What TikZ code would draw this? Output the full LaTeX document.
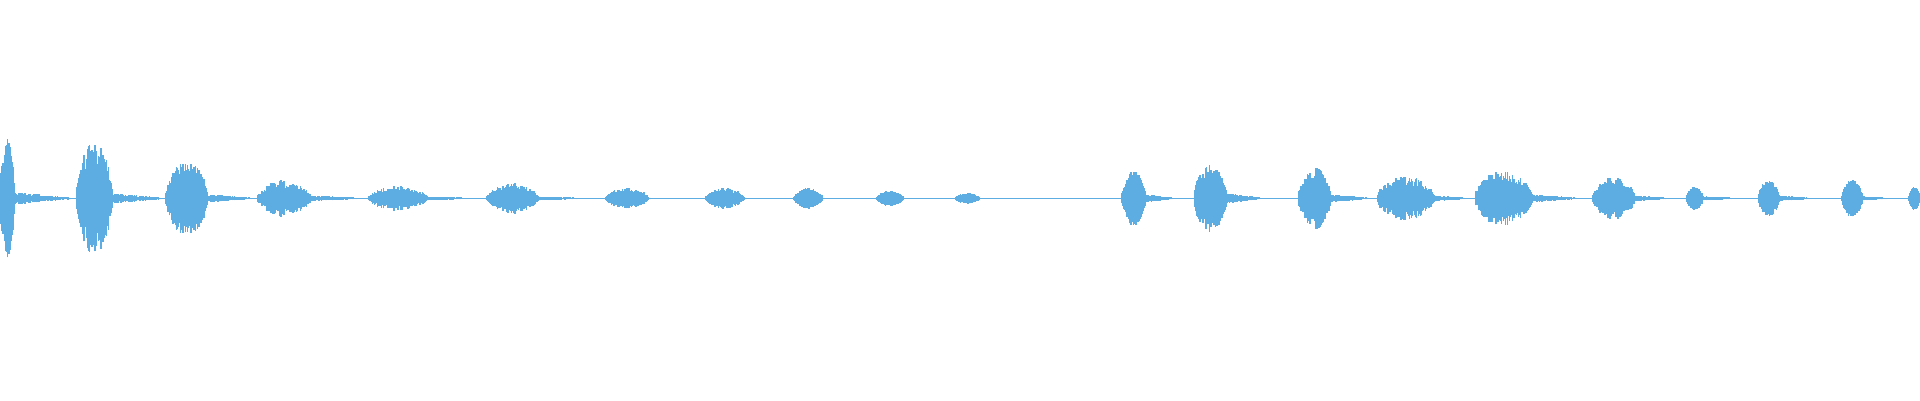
\documentclass[tikz,border=0pt]{standalone}
\definecolor{wave}{RGB}{93,173,226}
\begin{document}
\begin{tikzpicture}[x=0.01cm,y=0.01cm,wv/.style={wave,line width=0.35pt}]
\useasboundingbox (0,0) rectangle (1568,327);
\pgfmathsetseed{7}
\coordinate (L) at (0,165); \coordinate (R) at (1568,165);
\draw[wv] (L) -- (R);
% burst: start, end, amp, tail length, tail amp
\foreach \s/\e/\a/\tl/\ta in {0/12/48/50/5, 62/92/48/45/4, 135/170/31/40/3, 210/255/15/45/2, 300/350/10/40/1.5, 397/440/12/40/1.5, 494/530/8/0/0, 576/608/8/0/0, 648/672/8/0/0, 716/738/6/0/0, 780/800/4/0/0, 916/936/22/25/3, 975/1002/28/30/4, 1060/1087/25/35/3, 1124/1172/18/30/2, 1204/1252/23/40/3, 1300/1336/17/30/2, 1377/1391/9/30/1.5, 1436/1453/15/30/2, 1504/1521/15/25/1.5, 1559/1568/9/0/0}{
  \foreach \i in {0,...,60}{
    \pgfmathsetmacro{\x}{\s+(\e-\s)*\i/60}
    \pgfmathsetmacro{\t}{\i/60}
    \pgfmathsetmacro{\env}{\a*(sin(180*\t))^0.6*(0.55+0.45*rnd)+0.5}
    \draw[wv] (\x,165-\env) -- (\x,165+\env);
  }
  \ifdim \tl pt>0pt
  \foreach \i in {0,...,60}{
    \pgfmathsetmacro{\x}{\e+\tl*\i/60}
    \pgfmathsetmacro{\env}{\ta*(1-\i/60)*(0.5+0.5*rnd)+0.3}
    \draw[wv] (\x,165-\env) -- (\x,165+\env);
  }
  \fi
}
\end{tikzpicture}
\end{document}
